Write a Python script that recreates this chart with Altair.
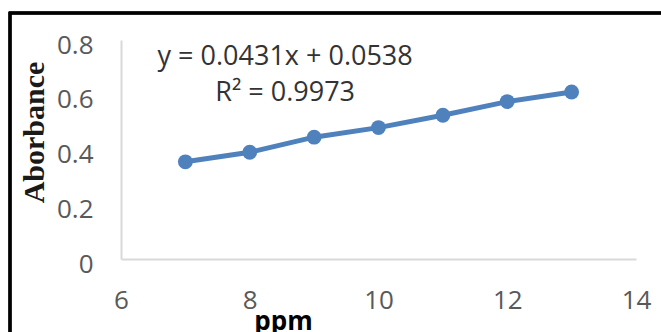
import altair as alt
import pandas as pd

# data
ppm = [7, 8, 9, 10, 11, 12, 13]
absorbance = [0.355, 0.39, 0.445, 0.48, 0.525, 0.575, 0.61]

eq_lines = ["y = 0.0431x + 0.0538", "R² = 0.9973"]
eq_x = [8.55, 8.55]
eq_y = [0.737, 0.605]

x_ticks = [6, 8, 10, 12, 14]
y_ticks = [0, 0.2, 0.4, 0.6, 0.8]

df = pd.DataFrame({"ppm": ppm, "abs": absorbance})
eq = pd.DataFrame({"t": eq_lines, "x": eq_x, "y": eq_y})

BLUE = "#4F81BD"

xs = alt.Scale(domain=[6, 14], nice=False, zero=False)
ys = alt.Scale(domain=[0, 0.8], nice=False)

xaxis = alt.Axis(
    values=x_ticks, format="d", grid=False, ticks=False, domainColor="#D9D9D9", domainWidth=2,
    labelFont="Open Sans", labelFontSize=26, labelColor="#595959",
    labelPadding=41, labelBaseline="middle", labelFlush=False,
    title="ppm", titleFont="Open Sans", titleFontSize=26, titleFontWeight="bold",
    titleColor="#000000", titleX=162, titleY=70, titleAlign="center",
    titleBaseline="alphabetic", titleAnchor="start",
)
yaxis = alt.Axis(
    values=y_ticks, format="~g", grid=False, ticks=False, domainColor="#D9D9D9",
    domainWidth=2, labelFont="Open Sans", labelFontSize=26, labelColor="#595959",
    labelPadding=28, labelOffset=5, labelFlush=False,
    title="Aborbance", titleFont="Liberation Serif", titleFontSize=30,
    titleFontWeight="bold", titleColor="#1a1a1a", titleX=-78, titleY=92,
    titleAngle=270, titleAlign="center", titleBaseline="alphabetic",
    titleAnchor="start",
)

base = alt.Chart(df)
line = base.mark_line(color=BLUE, strokeWidth=5).encode(
    x=alt.X("ppm:Q", scale=xs, axis=xaxis),
    y=alt.Y("abs:Q", scale=ys, axis=yaxis),
)
pts = base.mark_circle(color=BLUE, size=220, opacity=1).encode(
    x=alt.X("ppm:Q", scale=xs), y=alt.Y("abs:Q", scale=ys)
)
text = alt.Chart(eq).mark_text(
    font="Open Sans", fontSize=27, color="#333333", align="center", baseline="middle"
).encode(x=alt.X("x:Q", scale=xs), y=alt.Y("y:Q", scale=ys), text="t:N")

frame = alt.Chart(df).mark_rect(
    fill=None, stroke="#000000", strokeWidth=2.5, clip=False
).encode(
    x=alt.value(-111), x2=alt.value(560), y=alt.value(-27), y2=alt.value(320)
)

chart = alt.layer(line, pts, text, frame).properties(
    width=515, height=219,
    autosize=alt.AutoSizeParams(type="none"),
    padding={"left": 121, "top": 40, "right": 25, "bottom": 73},
    background="white",
).configure_view(stroke=None)

chart.save("out.html", embed_options={"renderer": "svg", "actions": False})
